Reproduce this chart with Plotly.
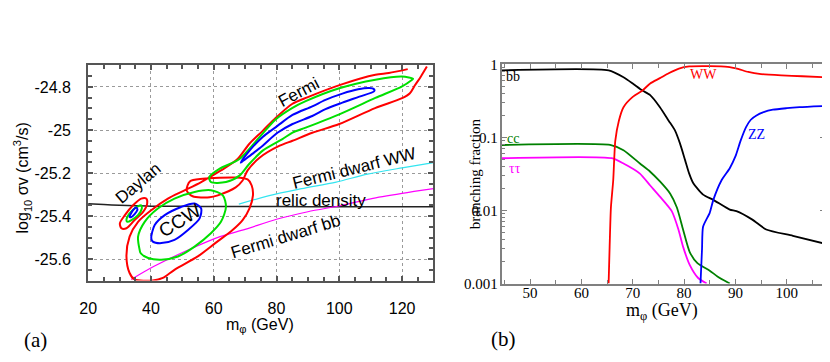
import plotly.graph_objects as go

# ---------------- panel (a): m_phi [GeV] vs log10 sigma v ----------------
daylan_red_x = [30.6, 30.1, 31.7, 34.3, 36.9, 38.5, 38.8, 37.5, 34.8, 32.2, 30.6]
daylan_red_y = [-25.457, -25.434, -25.396, -25.350, -25.319, -25.319, -25.342, -25.381, -25.419, -25.457, -25.457]
daylan_green_x = [32.2, 33.2, 35.3, 36.9, 37.1, 35.9, 33.8, 32.5, 32.2]
daylan_green_y = [-25.419, -25.388, -25.360, -25.350, -25.365, -25.396, -25.419, -25.427, -25.419]
daylan_blue_x = [33.2, 34.3, 35.3, 35.7, 34.8, 33.6, 33.2]
daylan_blue_y = [-25.404, -25.373, -25.360, -25.370, -25.391, -25.406, -25.404]

ccw_blue_x = [40.1, 41.2, 44.4, 49.6, 53.9, 56.0, 55.5, 51.8, 47.5, 43.3, 40.6, 40.1]
ccw_blue_y = [-25.503, -25.442, -25.396, -25.358, -25.342, -25.365, -25.411, -25.465, -25.511, -25.526, -25.519, -25.503]
ccw_green_x = [36.4, 35.9, 38.0, 42.2, 47.5, 53.9, 59.1, 62.9, 63.9, 62.3, 59.1, 53.9, 48.6, 43.3, 39.1, 36.7, 36.4]
ccw_green_y = [-25.557, -25.496, -25.427, -25.365, -25.319, -25.288, -25.280, -25.304, -25.358, -25.427,
               -25.480, -25.542, -25.588, -25.603, -25.595, -25.572, -25.557]

fermi_green_x = [58.6, 59.1, 63.9, 68.2, 71.3, 75.6, 81.9, 85.1, 89.3, 100.0, 111.5, 120.0, 123.2, 123.5,
                 120.0, 111.5, 100.0, 89.3, 85.1, 79.8, 74.5, 68.2, 61.8, 58.6]
fermi_green_y = [-25.219, -25.242, -25.242, -25.212, -25.158, -25.096, -25.042, -25.012, -24.989, -24.927,
                 -24.851, -24.797, -24.766, -24.762, -24.751, -24.766, -24.806, -24.866, -24.897, -24.950,
                 -25.035, -25.135, -25.181, -25.219]
fermi_blue_x = [68.6, 71.4, 75.6, 80.3, 85.1, 91.4, 95.6, 101.0, 106.0, 109.5, 111.1, 111.1, 106.4, 101.0,
                95.6, 91.4, 85.1, 80.3, 75.6, 72.4, 69.5, 68.6]
fermi_blue_y = [-25.152, -25.096, -25.032, -24.981, -24.930, -24.890, -24.860, -24.831, -24.811, -24.805,
                -24.811, -24.820, -24.845, -24.873, -24.903, -24.935, -24.972, -25.013, -25.073, -25.110,
                -25.142, -25.152]
red_x = [121.8, 115.8, 111.5, 100.3, 89.8, 85.1, 79.8, 75.6, 71.3, 67.6, 62.3, 56.0, 50.7, 45.4, 40.1,
         35.9, 33.2, 32.2, 33.2, 34.8, 40.6, 43.8, 47.6, 54.9, 60.6, 66.0, 69.2, 71.4, 72.5, 72.1, 70.8,
         67.0, 56.5, 52.4, 51.4, 53.3, 58.7, 61.3, 67.0, 69.2, 70.8, 74.6, 81.0, 85.1, 91.4, 100.0, 111.4,
         120.0, 122.5, 124.1, 126.0, 127.9]
red_y = [-24.717, -24.735, -24.743, -24.790, -24.848, -24.878, -24.943, -25.004, -25.065, -25.135, -25.188,
         -25.242, -25.281, -25.319, -25.373, -25.427, -25.496, -25.588, -25.665, -25.695, -25.700, -25.688,
         -25.649, -25.588, -25.525, -25.465, -25.419, -25.364, -25.304, -25.258, -25.230, -25.221, -25.227,
         -25.239, -25.281, -25.308, -25.313, -25.304, -25.267, -25.235, -25.188, -25.129, -25.073, -25.050,
         -25.013, -24.972, -24.898, -24.852, -24.829, -24.792, -24.751, -24.705]

relic_x = [20, 25, 30, 35, 40, 50, 60, 80, 100, 130]
relic_y = [-25.343, -25.347, -25.350, -25.352, -25.354, -25.355, -25.356, -25.356, -25.357, -25.357]
dwarf_ww_x = [68, 78, 88, 99, 109, 120, 130]
dwarf_ww_y = [-25.345, -25.304, -25.273, -25.242, -25.205, -25.176, -25.152]
dwarf_bb_x = [33.7, 41, 52, 62, 70, 80, 90, 101, 110, 120, 130]
dwarf_bb_y = [-25.695, -25.634, -25.557, -25.496, -25.462, -25.415, -25.38, -25.35, -25.32, -25.295, -25.273]

# ---------------- panel (b): branching fractions ----------------
bb_x = [44.5, 65.3, 68.2, 70, 71.9, 73.4, 75.3, 77, 78.2, 79.2, 80.2, 81, 81.8, 83.7, 85.7, 88.9, 90.2,
        93.3, 96, 101.2, 107.5]
bb_y = [0.83, 0.83, 0.67, 0.55, 0.44, 0.38, 0.26, 0.17, 0.126, 0.083, 0.049, 0.032, 0.0236, 0.0165, 0.014,
        0.0103, 0.0098, 0.0075, 0.0055, 0.0045, 0.0035]
ww_x = [65.3, 65.5, 65.75, 66.2, 66.6, 67.3, 68.2, 70, 71.9, 73.4, 75.3, 77, 79, 81, 85, 88.5, 90.5, 92.5,
        95, 99, 103, 107.5]
ww_y = [0.001, 0.0032, 0.011, 0.026, 0.09, 0.17, 0.26, 0.36, 0.44, 0.55, 0.65, 0.76, 0.88, 0.94, 0.95, 0.93,
        0.87, 0.79, 0.74, 0.71, 0.69, 0.67]
zz_x = [83.2, 83.5, 83.7, 85.0, 85.7, 87.3, 88.9, 90.0, 91.0, 92.1, 93.0, 94.1, 95.5, 97.3, 100, 102.5, 107.5]
zz_y = [0.001, 0.003, 0.006, 0.0093, 0.014, 0.026, 0.038, 0.055, 0.09, 0.14, 0.175, 0.2, 0.222, 0.24, 0.252,
        0.26, 0.27]
cc_x = [44.5, 65.6, 68.2, 71.4, 73.4, 75.3, 77.3, 78.6, 79.8, 81.1, 82.6, 85, 86.5, 88.9]
cc_y = [0.079, 0.079, 0.067, 0.044, 0.034, 0.025, 0.017, 0.011, 0.0055, 0.0027, 0.0019, 0.0015, 0.00125, 0.001]
tautau_x = [44.5, 65.9, 68.2, 71.4, 73.4, 75.3, 77.6, 78.9, 79.8, 81.1, 82.7, 84.4]
tautau_y = [0.052, 0.052, 0.044, 0.032, 0.022, 0.0155, 0.0098, 0.0055, 0.0032, 0.0018, 0.0012, 0.001]

W, H = 830, 362
SANS = "Liberation Sans, Arial, sans-serif"
SERIF = "Liberation Serif, Times New Roman, serif"

# window pixel -> paper fraction (the page puts the figure a little right/down)
X0, XS = 13.5, 0.994
Y0, YS = 13.3, 0.96


def px_x(p):
    return (p - X0) / XS / W


def px_y(p):
    return 1 - (p - Y0) / YS / H


fig = go.Figure()


def add_a(x, y, color, width=2):
    fig.add_trace(go.Scatter(x=x, y=y, mode="lines", xaxis="x", yaxis="y", showlegend=False,
                             line=dict(color=color, width=width, shape="spline", smoothing=0.8)))


def add_b(x, y, color):
    fig.add_trace(go.Scatter(x=x, y=y, mode="lines", xaxis="x2", yaxis="y2", showlegend=False,
                             line=dict(color=color, width=1.8, shape="spline", smoothing=0.6)))


add_a(relic_x, relic_y, "#222222", 1.5)
add_a(dwarf_ww_x, dwarf_ww_y, "#33e5f0", 1.2)
add_a(dwarf_bb_x, dwarf_bb_y, "#ff00ff", 1.2)
add_a(red_x, red_y, "#ff0000")
add_a(ccw_green_x, ccw_green_y, "#00e000")
add_a(fermi_green_x, fermi_green_y, "#00e000")
add_a(ccw_blue_x, ccw_blue_y, "#0000ff")
add_a(fermi_blue_x, fermi_blue_y, "#0000ff")
add_a(daylan_red_x, daylan_red_y, "#ff0000")
add_a(daylan_green_x, daylan_green_y, "#00e000")
add_a(daylan_blue_x, daylan_blue_y, "#0000ff")

add_b(bb_x, bb_y, "#000000")
add_b(cc_x, cc_y, "#008000")
add_b(tautau_x, tautau_y, "#ff00ff")
add_b(ww_x, ww_y, "#ff0000")
add_b(zz_x, zz_y, "#0000ff")

ytick_a = [-24.8, -25, -25.2, -25.4, -25.6]
ytick_b = [0.001, 0.01, 0.1, 1]
minor_b = [m * 10 ** e for e in (-3, -2, -1) for m in range(2, 10)]

frame_a = dict(showline=True, mirror="allticks", linecolor="#555555", linewidth=2,
               ticks="inside", ticklen=5, tickcolor="#555555", tickwidth=1.5,
               showgrid=True, gridcolor="#9a9a9a", griddash="dot", gridwidth=1, zeroline=False,
               tickfont=dict(family=SANS, size=16, color="black"))
frame_b = dict(showline=True, mirror="allticks", linecolor="#808080", linewidth=2,
               ticks="inside", ticklen=5, tickcolor="#808080", tickwidth=1.2,
               showgrid=False, zeroline=False,
               tickfont=dict(family=SERIF, size=15, color="black"))

fig.update_layout(
    width=W, height=H, margin=dict(l=0, r=0, t=0, b=0),
    paper_bgcolor="white", plot_bgcolor="white", showlegend=False,
    xaxis=dict(frame_a, domain=[px_x(85), px_x(432)], anchor="y", range=[20, 130],
               tickmode="linear", tick0=20, dtick=20, ticklabelstandoff=12,
               minor=dict(dtick=5, tick0=20, ticks="inside", ticklen=4, tickcolor="#555555", showgrid=False)),
    yaxis=dict(frame_a, domain=[px_y(279), px_y(63)], anchor="x", range=[-25.7, -24.7],
               tickmode="array", tickvals=ytick_a, ticktext=["%g" % v for v in ytick_a],
               ticklabelstandoff=12,
               minor=dict(tickmode="linear", tick0=-25, dtick=0.05, ticks="inside", ticklen=4,
                          tickcolor="#555555", showgrid=False)),
    xaxis2=dict(frame_b, domain=[px_x(500.7), px_x(825.7)], anchor="y2", range=[44.5, 107.5],
                tickmode="linear", tick0=50, dtick=10, ticklabelstandoff=-6,
                minor=dict(dtick=5, tick0=50, ticks="inside", ticklen=4, tickcolor="#808080", showgrid=False)),
    yaxis2=dict(frame_b, domain=[px_y(282), px_y(62)], anchor="x2", type="log", range=[-3, 0],
                tickmode="array", tickvals=ytick_b, ticktext=["0.001", "0.01", "0.1", "1"],
                ticklabelstandoff=-1,
                minor=dict(tickmode="array", tickvals=minor_b, ticks="inside", ticklen=3,
                           tickcolor="#808080", showgrid=False)),
)


def note(text, x, y, ref="", size=15, angle=0, color="black", family=SANS):
    paper = ref == "paper"
    fig.add_annotation(text=text, x=px_x(x) if paper else x, y=px_y(y) if paper else y,
                       xref="paper" if paper else "x" + ref, yref="paper" if paper else "y" + ref,
                       xanchor="center", yanchor="middle", showarrow=False,
                       textangle=angle, font=dict(family=family, size=size, color=color))


# panel (a) labels
note("Fermi", 87.0, -24.825, size=17, angle=-28)
note("Daylan", 35.9, -25.25, size=17, angle=-40)
note("CCW", 49.2, -25.42, size=19, angle=-32)
note("Fermi dwarf WW", 104.7, -25.18, size=17, angle=-14)
note("relic density", 94.3, -25.327, size=17)
note("Fermi dwarf bb", 83.0, -25.495, size=17, angle=-17)

# panel (b) labels
note("bb", 46.6, -0.163, ref="2", size=14, family=SERIF)
note("cc", 46.7, -1.012, ref="2", size=14, color="#008000", family=SERIF)
note("ττ", 47.0, -1.421, ref="2", size=14, color="#ff00ff", family=SERIF)
note("WW", 83.7, -0.139, ref="2", size=14, color="#ff0000", family=SERIF)
note("ZZ", 94.1, -0.956, ref="2", size=14, color="#0000ff", family=SERIF)

# axis titles and panel tags (positions in window pixels)
note("log<sub>10</sub> σv (cm<sup>3</sup>/s)", 19, 176, ref="paper", size=16, angle=-90)
note("m<sub>φ</sub> (GeV)", 258, 324, ref="paper", size=16)
note("branching fraction", 474, 172, ref="paper", size=15, angle=-90, family=SERIF)
note("m<sub>φ</sub> (GeV)", 662, 310, ref="paper", size=18, family=SERIF)
note("(a)", 32, 339, ref="paper", size=21, family=SERIF)
note("(b)", 502, 338, ref="paper", size=21, family=SERIF)

fig.write_html("out.html")
